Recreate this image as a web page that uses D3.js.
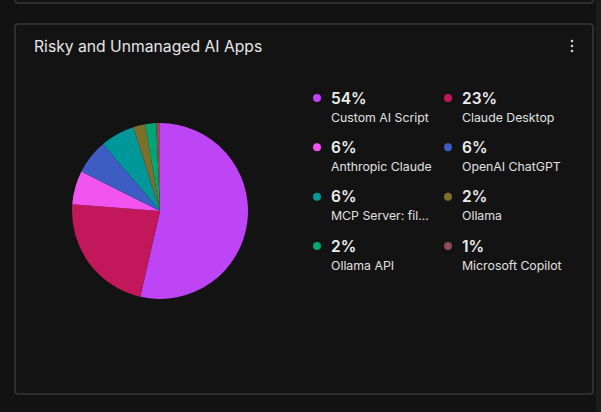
<!DOCTYPE html>
<html>
<head>
<meta charset="utf-8">
<script src="https://cdn.jsdelivr.net/npm/d3@7"></script>
<style>
  html, body { margin: 0; padding: 0; background: #121212; }
  svg { display: block; font-family: Inter, "Noto Sans", sans-serif; }
</style>
</head>
<body>
<svg id="chart" width="601" height="412"></svg>
<script>
const apps = ['Custom AI Script', 'Claude Desktop', 'Anthropic Claude', 'OpenAI ChatGPT',
  'MCP Server: filesystem', 'Ollama', 'Ollama API', 'Microsoft Copilot'];
const shares = [53.6, 22.6, 6.2, 6.4, 6.3, 2.2, 2.0, 0.7];
const colours = ['#bd45f5', '#c2185b', '#f254f0', '#3d5cc4', '#00979a', '#7d6e2a', '#00a676', '#8f4a5c'];

const svg = d3.select('#chart');

// page + panels
svg.append('rect').attr('width', 601).attr('height', 412).attr('fill', '#121212');
svg.append('rect')
  .attr('x', 15).attr('y', -10).attr('width', 578).attr('height', 13).attr('rx', 3)
  .attr('fill', '#131313').attr('stroke', '#2e2e2e').attr('stroke-width', 2);
svg.append('rect')
  .attr('x', 15).attr('y', 24).attr('width', 578).attr('height', 370).attr('rx', 3)
  .attr('fill', '#131313').attr('stroke', '#2e2e2e').attr('stroke-width', 2);
svg.append('rect').attr('x', 596).attr('y', 0).attr('width', 5).attr('height', 412).attr('fill', '#1c1c1c');

svg.append('text')
  .attr('x', 34).attr('y', 52)
  .attr('fill', '#e6e6e6')
  .attr('font-size', 15.7)
  .text('Risky and Unmanaged AI Apps');

// menu dots
svg.append('g').selectAll('circle').data([0, 1, 2]).join('circle')
  .attr('cx', 572).attr('cy', (d) => 41 + d * 5).attr('r', 1.3).attr('fill', '#cfcfcf');

// pie
const colour = d3.scaleOrdinal().domain(apps).range(colours);
const data = apps.map((name, i) => ({ name, value: shares[i] }));
const total = d3.sum(shares);
const pie = d3.pie().sort(null).value((d) => d.value);
const arc = d3.arc().innerRadius(0).outerRadius(88);

svg.append('g')
  .attr('transform', 'translate(160,211)')
  .selectAll('path')
  .data(pie(data))
  .join('path')
  .attr('d', arc)
  .attr('fill', (d) => colour(d.data.name));

// legend
const truncate = (s) => (s.length > 18 ? `${s.slice(0, 15)}...` : s);
const x = d3.scalePoint().domain([0, 1]).range([317, 448]);
const y = d3.scalePoint().domain([0, 1, 2, 3]).range([98, 246]);

const items = svg.append('g').selectAll('g')
  .data(data)
  .join('g')
  .attr('transform', (d, i) => `translate(${x(i % 2)},${y(Math.floor(i / 2))})`);

items.append('circle').attr('r', 4).attr('fill', (d) => colour(d.name));
items.append('text')
  .attr('x', 14).attr('y', 5.5)
  .attr('fill', '#ececec').attr('font-size', 15.5).attr('font-weight', 600)
  .text((d) => `${Math.round((d.value / total) * 100)}%`);
items.append('text')
  .attr('x', 14).attr('y', 23.5)
  .attr('fill', '#e0e0e0').attr('font-size', 12.3)
  .text((d) => truncate(d.name));
</script>
</body>
</html>
